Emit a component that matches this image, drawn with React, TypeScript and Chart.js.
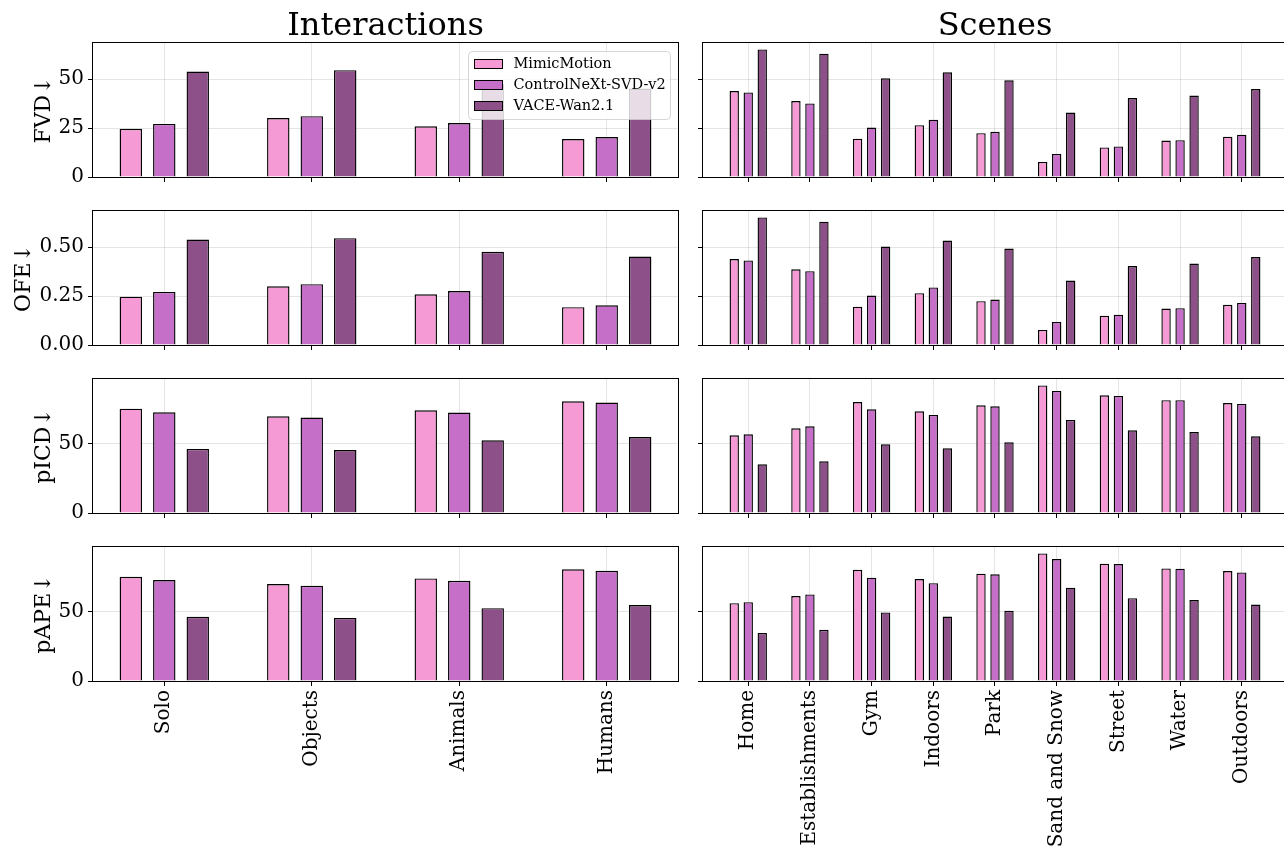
import React, { useEffect, useRef } from "react";
import { Chart, registerables } from "chart.js";

Chart.register(...registerables);

// ---- categories and series ----
const interactionCategories = ["Solo", "Objects", "Animals", "Humans"];
const sceneCategories = [
  "Home",
  "Establishments",
  "Gym",
  "Indoors",
  "Park",
  "Sand and Snow",
  "Street",
  "Water",
  "Outdoors",
];
const methods = ["MimicMotion", "ControlNeXt-SVD-v2", "VACE-Wan2.1"];

// FVD
const fvdInteractionMimic = [24.6, 30.1, 25.9, 19.4];
const fvdInteractionControl = [27.1, 31.1, 27.6, 20.4];
const fvdInteractionVace = [53.9, 54.6, 47.6, 45.2];
const fvdSceneMimic = [43.9, 38.8, 19.6, 26.5, 22.4, 7.7, 15.1, 18.6, 20.6];
const fvdSceneControl = [43.2, 37.6, 25.3, 29.3, 23.1, 11.8, 15.6, 18.8, 21.6];
const fvdSceneVace = [65.2, 63.0, 50.4, 53.5, 49.4, 32.9, 40.3, 41.6, 44.9];

// OFE
const ofeInteractionMimic = [0.247, 0.3, 0.259, 0.193];
const ofeInteractionControl = [0.271, 0.311, 0.276, 0.203];
const ofeInteractionVace = [0.539, 0.546, 0.476, 0.452];
const ofeSceneMimic = [0.439, 0.387, 0.196, 0.265, 0.224, 0.077, 0.15, 0.186, 0.205];
const ofeSceneControl = [0.432, 0.377, 0.253, 0.294, 0.232, 0.118, 0.155, 0.188, 0.215];
const ofeSceneVace = [0.652, 0.63, 0.503, 0.534, 0.493, 0.329, 0.403, 0.416, 0.449];

// pICD
const picdInteractionMimic = [75.2, 69.7, 74.0, 80.5];
const picdInteractionControl = [72.6, 68.8, 72.4, 79.6];
const picdInteractionVace = [46.2, 45.4, 52.4, 54.8];
const picdSceneMimic = [56.0, 61.1, 80.0, 73.3, 77.6, 92.0, 84.9, 81.3, 79.3];
const picdSceneControl = [56.7, 62.5, 74.8, 70.7, 76.9, 88.0, 84.4, 81.3, 78.6];
const picdSceneVace = [35.1, 37.3, 49.5, 46.6, 51.0, 67.1, 59.6, 58.4, 55.3];

// pAPE
const papeInteractionMimic = [75.0, 69.7, 73.8, 80.3];
const papeInteractionControl = [72.6, 68.5, 72.1, 79.3];
const papeInteractionVace = [46.2, 45.4, 52.4, 54.6];
const papeSceneMimic = [56.0, 61.1, 80.0, 73.3, 77.2, 91.8, 84.4, 81.0, 79.1];
const papeSceneControl = [56.7, 62.3, 74.3, 70.4, 76.7, 87.7, 84.1, 80.8, 78.1];
const papeSceneVace = [34.6, 36.8, 49.3, 46.4, 50.5, 67.1, 59.6, 58.2, 55.0];

// y tick values per metric
const fvdTicks = [0, 25, 50];
const ofeTicks = [0, 0.25, 0.5];
const picdTicks = [0, 50];
const papeTicks = [0, 50];

// ---- styling ----
const FONT = "'DejaVu Serif', 'Liberation Serif', serif";
const seriesColors = ["#F59AD5", "#C66FC8", "#8E5089"];
const gridColor = "rgba(0,0,0,0.1)";

Chart.defaults.font.family = FONT;
Chart.defaults.color = "#000";

// bar group geometry (in category units)
const SLOT = 0.227; // distance between neighbouring bars
const BAR = 0.152; // bar width
const GROUP_HALF = SLOT + BAR / 2;

function xRange(n: number): [number, number] {
  const span = n - 1 + 2 * GROUP_HALF;
  return [-GROUP_HALF - 0.05 * span, n - 1 + GROUP_HALF + 0.05 * span];
}

// page layout
const PLOT_TOPS = [43, 211, 379, 547];
const PLOT_H = 134;
const LEFT_CANVAS = { left: 0, width: 690, axisW: 93, padRight: 12 };
const RIGHT_CANVAS = { left: 690, width: 610, axisW: 13, padRight: 13 };
const PAGE_H = 846;

const framePlugin = {
  id: "frame",
  afterDatasetsDraw(chart: any) {
    const { ctx, chartArea: a } = chart;
    ctx.save();
    ctx.strokeStyle = "#000";
    ctx.lineWidth = 1;
    const x0 = Math.round(a.left) - 0.5;
    const y0 = Math.round(a.top) - 0.5;
    const x1 = Math.round(a.right) + 0.5;
    const y1 = Math.round(a.bottom) + 0.5;
    ctx.strokeRect(x0, y0, x1 - x0, y1 - y0);
    ctx.restore();
  },
};

const keyPlugin = {
  id: "seriesKey",
  afterDatasetsDraw(chart: any) {
    const { ctx, chartArea: a } = chart;
    const w = 202;
    const h = 68;
    const x = Math.round(a.right - 8 - w) + 0.5;
    const y = Math.round(a.top + 8) + 0.5;
    ctx.save();
    ctx.beginPath();
    ctx.roundRect(x, y, w, h, 4);
    ctx.fillStyle = "rgba(255,255,255,0.8)";
    ctx.fill();
    ctx.strokeStyle = "rgba(204,204,204,0.8)";
    ctx.lineWidth = 1;
    ctx.stroke();
    ctx.font = `14.5px ${FONT}`;
    ctx.textBaseline = "middle";
    ctx.textAlign = "left";
    methods.forEach((name, k) => {
      const cy = y + 12.5 + k * 21;
      ctx.fillStyle = seriesColors[k];
      ctx.fillRect(x + 6, cy - 4.5, 28, 9);
      ctx.strokeStyle = "#000";
      ctx.strokeRect(x + 6, cy - 4.5, 28, 9);
      ctx.fillStyle = "#000";
      ctx.fillText(name, x + 45, cy);
    });
    ctx.restore();
  },
};

type PanelProps = {
  row: number;
  side: "left" | "right";
  categories: string[];
  series: number[][];
  yMax: number;
  yTicks: number[];
  yFormat: (v: number) => string;
  yLabel?: string;
  yLabelCenter?: number;
  title?: string;
  legend?: boolean;
};

function Panel(p: PanelProps) {
  const ref = useRef<HTMLCanvasElement>(null);
  const box = p.side === "left" ? LEFT_CANVAS : RIGHT_CANVAS;
  const plotTop = PLOT_TOPS[p.row];
  const isTop = p.row === 0;
  const isBottom = p.row === PLOT_TOPS.length - 1;
  const canvasTop = isTop ? 0 : plotTop - 6;
  const padTop = isTop ? 0 : 6;
  const xAxisH = isBottom ? PAGE_H - (plotTop + PLOT_H) : 6;
  const height = plotTop - canvasTop + PLOT_H + xAxisH;

  useEffect(() => {
    const [xMin, xMax] = xRange(p.categories.length);
    const titleLine = 22 * 1.2;
    const chart = new Chart(ref.current as HTMLCanvasElement, {
      type: "bar",
      data: {
        datasets: p.series.map((vals, k) => ({
          label: methods[k],
          data: vals.map((v, i) => ({ x: i, y: v })),
          backgroundColor: seriesColors[k],
          borderColor: "#000",
          borderWidth: 1.4,
          borderSkipped: "start",
          categoryPercentage: SLOT * 3,
          barPercentage: BAR / SLOT,
        })),
      } as any,
      options: {
        responsive: false,
        animation: false,
        events: [],
        layout: { padding: { top: padTop, right: box.padRight, left: 0, bottom: 0 } },
        plugins: {
          legend: { display: false },
          tooltip: { enabled: false },
          title: {
            display: !!p.title,
            text: p.title || "",
            fullSize: false,
            color: "#000",
            font: { size: 32, weight: "normal", lineHeight: 1 },
            padding: { top: 11, bottom: 0 },
          },
        },
        scales: {
          x: {
            type: "linear",
            min: xMin,
            max: xMax,
            offset: false,
            grid: {
              offset: false,
              color: gridColor,
              tickColor: "#000",
              tickLength: 5,
              lineWidth: 1,
            },
            border: { display: false },
            ticks: {
              display: isBottom,
              autoSkip: false,
              maxRotation: 90,
              minRotation: 90,
              padding: 4,
              color: "#000",
              font: { size: 20 },
              callback: (v: any) => p.categories[v] ?? "",
            },
            afterBuildTicks: (s: any) => {
              s.ticks = p.categories.map((_, i) => ({ value: i }));
            },
            afterFit: (s: any) => {
              s.height = xAxisH;
              s.paddingLeft = 0;
              s.paddingRight = 0;
            },
          },
          y: {
            min: 0,
            max: p.yMax,
            grid: {
              color: gridColor,
              tickColor: "#000",
              tickLength: 5,
              lineWidth: 1,
            },
            border: { display: false },
            ticks: {
              display: p.side === "left",
              padding: 4,
              color: "#000",
              font: { size: 20 },
              callback: (v: any) => p.yFormat(Number(v)),
            },
            title: {
              display: !!p.yLabel,
              text: p.yLabel || "",
              color: "#000",
              font: { size: 22 },
              padding: { top: (p.yLabelCenter ?? 44) - titleLine / 2, bottom: 0 },
            },
            afterBuildTicks: (s: any) => {
              s.ticks = p.yTicks.map((v) => ({ value: v }));
            },
            afterFit: (s: any) => {
              s.width = box.axisW;
              s.paddingTop = 0;
              s.paddingBottom = 0;
            },
          },
        },
      } as any,
      plugins: p.legend ? [framePlugin, keyPlugin] : [framePlugin],
    });
    return () => chart.destroy();
  }, []);

  return (
    <canvas
      ref={ref}
      width={box.width}
      height={height}
      style={{
        position: "absolute",
        left: box.left,
        top: canvasTop,
        width: box.width,
        height,
      }}
    />
  );
}

const fmtInt = (v: number) => String(Math.round(v));
const fmt2 = (v: number) => v.toFixed(2);

const rows = [
  {
    label: "FVD↓",
    labelCenter: 44,
    ticks: fvdTicks,
    fmt: fmtInt,
    inter: [fvdInteractionMimic, fvdInteractionControl, fvdInteractionVace],
    scene: [fvdSceneMimic, fvdSceneControl, fvdSceneVace],
  },
  {
    label: "OFE↓",
    labelCenter: 24,
    ticks: ofeTicks,
    fmt: fmt2,
    inter: [ofeInteractionMimic, ofeInteractionControl, ofeInteractionVace],
    scene: [ofeSceneMimic, ofeSceneControl, ofeSceneVace],
  },
  {
    label: "pICD↓",
    labelCenter: 44,
    ticks: picdTicks,
    fmt: fmtInt,
    inter: [picdInteractionMimic, picdInteractionControl, picdInteractionVace],
    scene: [picdSceneMimic, picdSceneControl, picdSceneVace],
  },
  {
    label: "pAPE↓",
    labelCenter: 44,
    ticks: papeTicks,
    fmt: fmtInt,
    inter: [papeInteractionMimic, papeInteractionControl, papeInteractionVace],
    scene: [papeSceneMimic, papeSceneControl, papeSceneVace],
  },
];

export default function App() {
  return (
    <div
      style={{
        position: "fixed",
        left: 0,
        top: 0,
        width: 1284,
        height: PAGE_H,
        overflow: "hidden",
        background: "#fff",
      }}
    >
      {rows.map((r, i) => {
        // both panels in a row share the same y range
        const all = [...r.inter.flat(), ...r.scene.flat()];
        const yMax = Math.max(...all) * 1.05;
        return (
          <React.Fragment key={r.label}>
            <Panel
              row={i}
              side="left"
              categories={interactionCategories}
              series={r.inter}
              yMax={yMax}
              yTicks={r.ticks}
              yFormat={r.fmt}
              yLabel={r.label}
              yLabelCenter={r.labelCenter}
              title={i === 0 ? "Interactions" : undefined}
              legend={i === 0}
            />
            <Panel
              row={i}
              side="right"
              categories={sceneCategories}
              series={r.scene}
              yMax={yMax}
              yTicks={r.ticks}
              yFormat={r.fmt}
              title={i === 0 ? "Scenes" : undefined}
            />
          </React.Fragment>
        );
      })}
    </div>
  );
}
